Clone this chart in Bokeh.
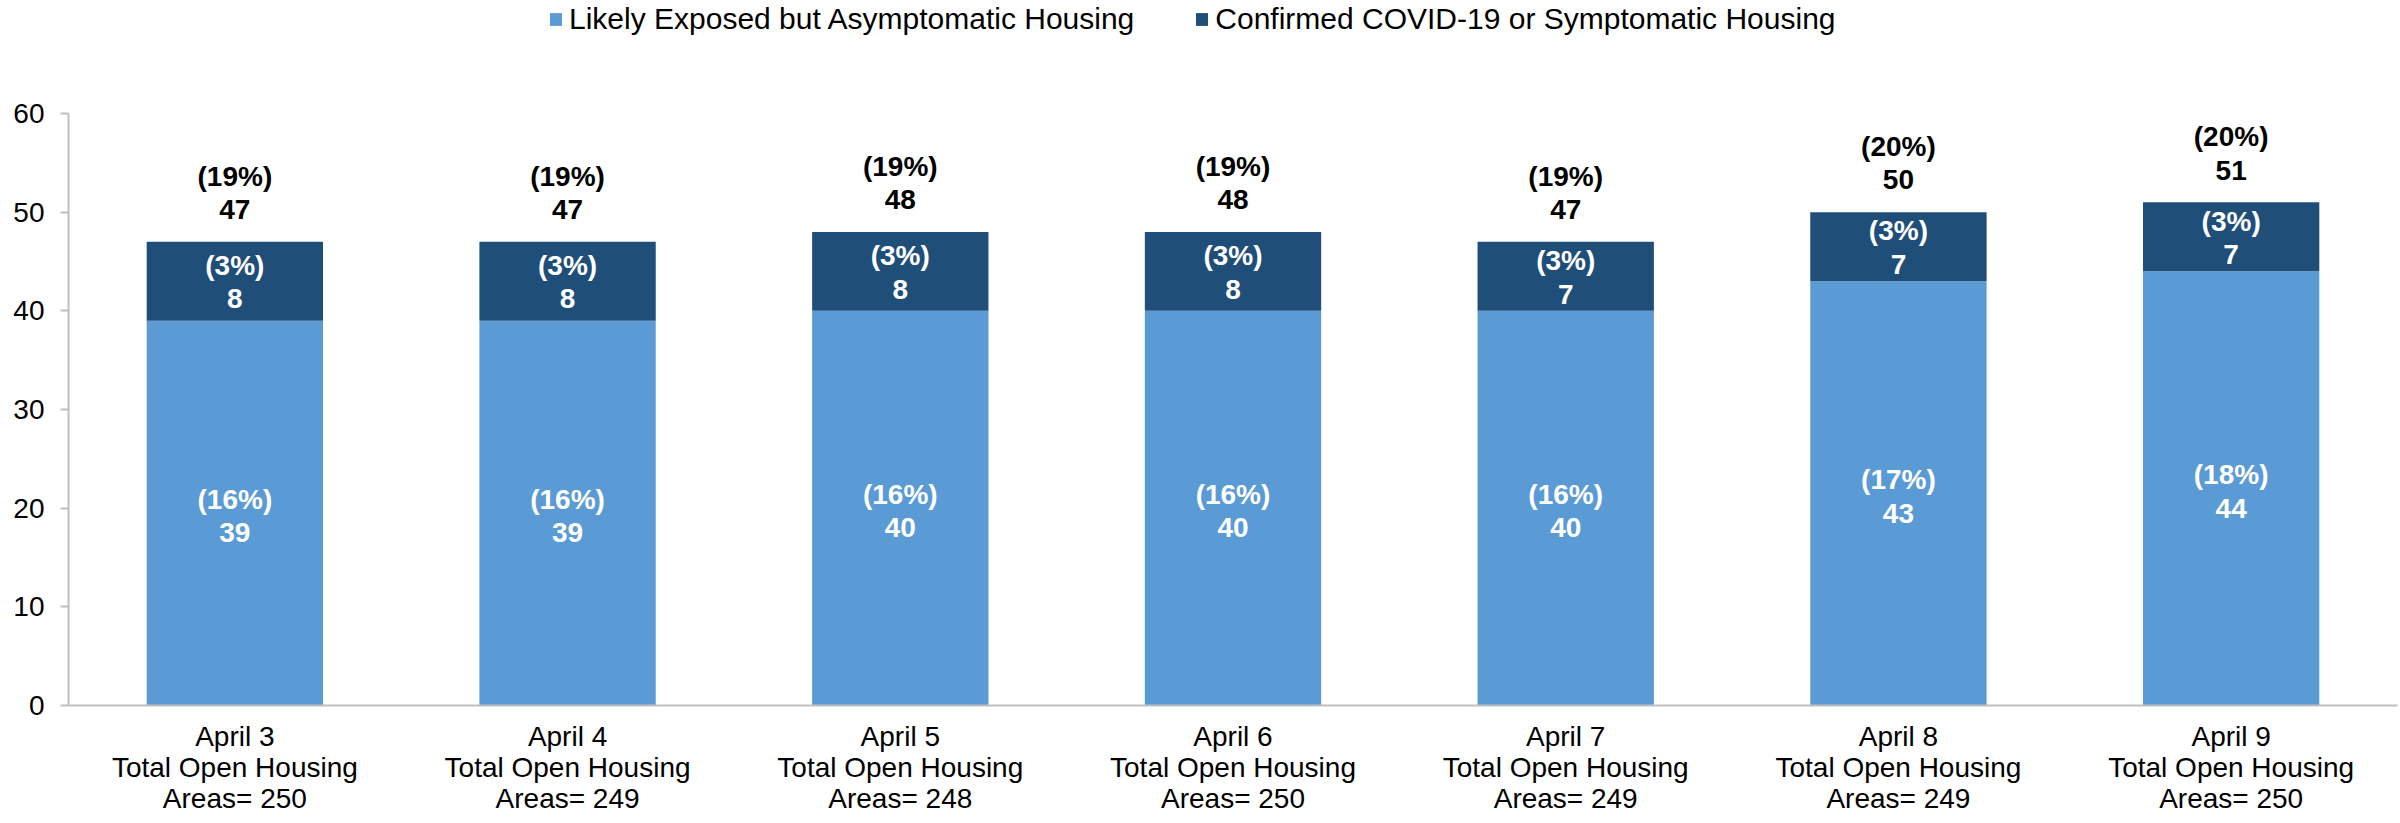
from bokeh.plotting import figure
from bokeh.models import (ColumnDataSource, Range1d, Legend, LegendItem,
                          LinearAxis, FixedTicker)
from bokeh.core.properties import value
from bokeh.embed import file_html
from bokeh.resources import INLINE

# ---- data ----
dates = ["April 3", "April 4", "April 5", "April 6", "April 7", "April 8", "April 9"]
open_areas = [250, 249, 248, 250, 249, 249, 250]
exposed = [39, 39, 40, 40, 40, 43, 44]
confirmed = [8, 8, 8, 8, 7, 7, 7]
exposed_pct = ["16%", "16%", "16%", "16%", "16%", "17%", "18%"]
confirmed_pct = ["3%", "3%", "3%", "3%", "3%", "3%", "3%"]
total_pct = ["19%", "19%", "19%", "19%", "19%", "20%", "20%"]
y_ticks = [0, 10, 20, 30, 40, 50, 60]
series_names = ["Likely Exposed but Asymptomatic Housing", "Confirmed COVID-19 or Symptomatic Housing"]
line2_label = "Total Open Housing"

totals = [e + c for e, c in zip(exposed, confirmed)]
n = len(dates)
centers = [i + 0.5 for i in range(n)]   # category slot centres

src = ColumnDataSource(dict(
    x=centers,
    exposed=exposed,
    confirmed=confirmed,
    top=totals,
    exp_mid=[e / 2 for e in exposed],
    conf_mid=[e + c / 2 for e, c in zip(exposed, confirmed)],
    exp_lab=[f"({p})\n{v}" for p, v in zip(exposed_pct, exposed)],
    conf_lab=[f"({p})\n{v}" for p, v in zip(confirmed_pct, confirmed)],
    tot_lab=[f"({p})\n{v}" for p, v in zip(total_pct, totals)],
))

LIGHT = "#5B9BD5"
DARK = "#1F4E79"
FONT = "Liberation Sans"
AXIS_GREY = "#BFBFBF"

# frame spans the full height above the plot; y axis line itself stops at 60
p = figure(
    width=2400, height=823,
    x_range=Range1d(0, n),
    y_range=Range1d(0, 71.45),
    output_backend="svg", toolbar_location=None,
    x_axis_location=None,
    min_border_left=68, min_border_right=3, min_border_top=0, min_border_bottom=118,
)
p.outline_line_color = None
p.xgrid.grid_line_color = None
p.ygrid.grid_line_color = None

r1 = p.vbar(x="x", bottom=0, top="exposed", width=0.53, source=src,
            fill_color=LIGHT, line_color=None)
r2 = p.vbar(x="x", bottom="exposed", top="top", width=0.53, source=src,
            fill_color=DARK, line_color=None)

common = dict(text_align="center", text_baseline="middle", text_font=value(FONT),
              text_font_style="bold", text_font_size="28px", text_line_height=1.08)
p.text(x="x", y="exp_mid", text="exp_lab", source=src, text_color="white", y_offset=3, **common)
p.text(x="x", y="conf_mid", text="conf_lab", source=src, text_color="white", y_offset=1, **common)
p.text(x="x", y="top", text="tot_lab", source=src, text_color="black", y_offset=-49, **common)

# y axis
p.yaxis.ticker = y_ticks
p.yaxis.bounds = (0, 60)
p.yaxis.axis_line_color = AXIS_GREY
p.yaxis.axis_line_width = 2
p.yaxis.major_tick_line_color = AXIS_GREY
p.yaxis.major_tick_line_width = 2
p.yaxis.major_tick_out = 8
p.yaxis.major_tick_in = 0
p.yaxis.minor_tick_line_color = None
p.yaxis.major_label_text_font = FONT
p.yaxis.major_label_text_font_size = "28px"
p.yaxis.major_label_text_color = "black"
p.yaxis.major_label_standoff = 16

# x axis: three stacked label rows
rows = [
    {c: d for c, d in zip(centers, dates)},
    {c: line2_label for c in centers},
    {c: f"Areas= {a}" for c, a in zip(centers, open_areas)},
]
for k, overrides in enumerate(rows):
    ax = LinearAxis(
        ticker=FixedTicker(ticks=centers),
        major_label_overrides=overrides,
        axis_line_color=AXIS_GREY if k == 0 else None,
        axis_line_width=2,
        major_tick_line_color=None, minor_tick_line_color=None,
        major_tick_out=0, major_tick_in=0, minor_tick_out=0, minor_tick_in=0,
        major_label_text_font=FONT, major_label_text_font_size="28px",
        major_label_text_color="black", major_label_text_line_height=1.0,
        major_label_standoff=15 if k == 0 else -3,
    )
    p.add_layout(ax, "below")

legend = Legend(
    items=[LegendItem(label=series_names[0], renderers=[r1]),
           LegendItem(label=series_names[1], renderers=[r2])],
    orientation="horizontal",
    location=(480, 669),
    label_text_font=FONT, label_text_font_size="30px", label_text_color="black",
    glyph_width=15, glyph_height=16, label_standoff=6, spacing=60,
    padding=0, margin=0, border_line_color=None, background_fill_alpha=0,
)
p.add_layout(legend, "center")

open("out.html", "w").write(file_html(p, INLINE))
